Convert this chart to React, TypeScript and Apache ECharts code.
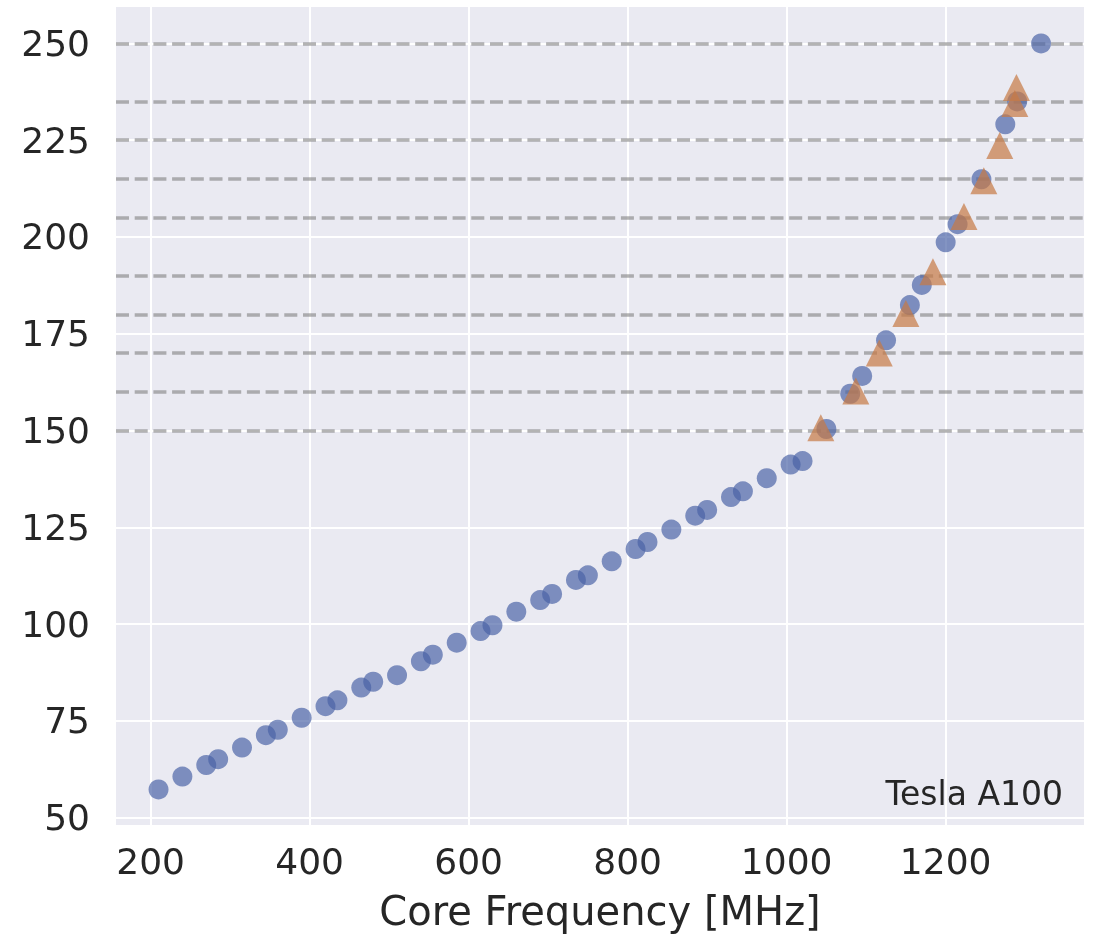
import React, { useEffect, useRef } from "react";
import * as echarts from "echarts";

// Blue circles: measured points
const blueX = [210, 240, 270, 285, 315, 345, 360, 390, 420, 435, 465, 480, 510, 540, 555, 585, 615, 630, 660, 690, 705, 735, 750, 780, 810, 825, 855, 885, 900, 930, 945, 975, 1005, 1020, 1050, 1080, 1095, 1125, 1155, 1170, 1200, 1215, 1245, 1275, 1290, 1320];
const blueY = [57.3, 60.6, 63.6, 65.1, 68.1, 71.3, 72.7, 75.8, 78.8, 80.3, 83.6, 85.1, 86.8, 90.4, 92.1, 95.2, 98.2, 99.7, 103.2, 106.2, 107.8, 111.4, 112.6, 116.2, 119.4, 121.2, 124.4, 128.0, 129.5, 132.8, 134.3, 137.7, 141.2, 142.1, 150.4, 159.5, 164.1, 173.3, 182.4, 187.6, 198.6, 203.3, 214.9, 229.1, 235.0, 250.0];

// Orange triangles: predicted points
const triX = [1043, 1087, 1116.5, 1150, 1184, 1223, 1248, 1268, 1287, 1289];
const triY = [150.7, 160.2, 170.0, 180.2, 191.0, 205.3, 214.5, 223.6, 234.5, 238.6];

// Dashed threshold lines
const thresholds = [150, 160, 170, 180, 190, 205, 215, 225, 235, 250];

const xLabel = "Core Frequency [MHz]";
const deviceName = "Tesla A100";

const FONT = "DejaVu Sans";
const TEXT = "#262626";

export default function App() {
  const ref = useRef<HTMLDivElement>(null);
  useEffect(() => {
    if (!ref.current) return;
    const chart = echarts.init(ref.current, undefined, { renderer: "svg" });
    chart.setOption({
      animation: false,
      grid: {
        left: 116,
        right: 15,
        top: 7,
        bottom: 110,
        show: true,
        backgroundColor: "#EAEAF2",
        borderWidth: 0,
      },
      xAxis: {
        type: "value",
        min: 156.5,
        max: 1374,
        minInterval: 200,
        maxInterval: 200,
        axisLine: { show: false },
        axisTick: { show: false },
        axisLabel: {
          showMinLabel: false,
          showMaxLabel: false,
          fontSize: 36,
          color: TEXT,
          fontFamily: FONT,
          margin: 18,
          formatter: (v: number) => String(v),
        },
        splitLine: {
          show: true,
          showMinLine: false,
          showMaxLine: false,
          lineStyle: { color: "#ffffff", width: 2 },
        },
        name: xLabel,
        nameLocation: "middle",
        nameGap: 66,
        nameTextStyle: { fontSize: 40, color: TEXT, fontFamily: FONT },
      },
      yAxis: {
        type: "value",
        min: 48.1,
        max: 259.4,
        minInterval: 25,
        maxInterval: 25,
        axisLine: { show: false },
        axisTick: { show: false },
        axisLabel: {
          showMinLabel: false,
          showMaxLabel: false,
          fontSize: 36,
          color: TEXT,
          fontFamily: FONT,
          margin: 26,
          formatter: (v: number) => String(v),
        },
        splitLine: {
          show: true,
          showMinLine: false,
          showMaxLine: false,
          lineStyle: { color: "#ffffff", width: 2 },
        },
      },
      series: [
        {
          type: "scatter",
          data: blueX.map((x, i) => [x, blueY[i]]),
          symbol: "circle",
          symbolSize: 20,
          clip: false,
          z: 2,
          itemStyle: { color: "rgba(72,97,165,0.85)" },
          markLine: {
            silent: true,
            symbol: "none",
            z: 1,
            label: { show: false },
            lineStyle: { color: "rgba(128,128,128,0.6)", width: 3.5, type: [13, 5.7] },
            data: thresholds.map((v) => ({ yAxis: v })),
          },
        },
        {
          type: "scatter",
          data: triX.map((x, i) => [x, triY[i]]),
          symbol: "triangle",
          symbolSize: 27,
          clip: false,
          z: 4,
          itemStyle: { color: "rgba(198,122,70,0.88)" },
        },
      ],
      graphic: [
        {
          type: "text",
          x: 1063,
          y: 793,
          z: 10,
          style: {
            text: deviceName,
            fontSize: 33,
            fontFamily: FONT,
            fill: TEXT,
            textAlign: "right",
            textVerticalAlign: "middle",
          },
        },
      ],
    });
    return () => chart.dispose();
  }, []);
  return (
    <div
      ref={ref}
      style={{ position: "fixed", left: 0, top: 0, width: 1099, height: 936 }}
    />
  );
}
